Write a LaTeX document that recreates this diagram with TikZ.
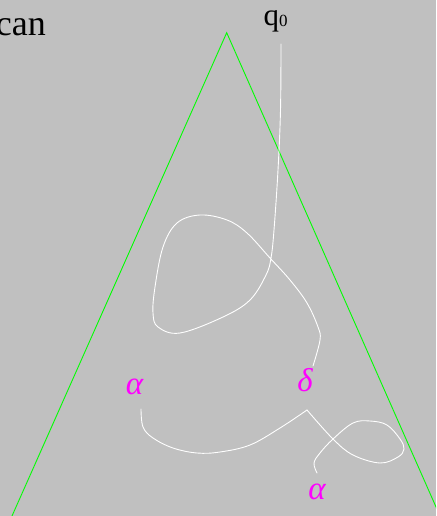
\documentclass[tikz,border=0pt]{standalone}
\usepackage{fontspec}
\setmainfont{Liberation Serif}
\definecolor{bggray}{RGB}{192,192,192}
\definecolor{tgreen}{RGB}{0,255,0}
\definecolor{lblmag}{RGB}{255,0,255}
\tikzset{
  edgeline/.style={draw=tgreen, line width=0.9pt},
  strand/.style={draw=white, line width=0.9pt, line cap=round, line join=round},
  greeklbl/.style={text=lblmag, inner sep=0pt, anchor=base, font=\fontsize{33}{33}\selectfont\itshape},
  blacklbl/.style={text=black, inner sep=0pt},
}
\begin{document}
\begin{tikzpicture}[x=1pt,y=-1pt]
\useasboundingbox (0,0) rectangle (436,516);
\fill[bggray] (0,0) rectangle (436,516);
\begin{scope}
\clip (0,0) rectangle (436,516);
\draw[edgeline] (12,516) -- (226.7,32.7) -- (440,516);
\draw[strand] plot[smooth, tension=0.6] coordinates {
  (281,44) (280.5,110) (278,170) (274,230) (271,258) (266,275) (250,300) (223,317)
  (180,333) (158,327) (153,313) (155,287) (163,247) (177,223) (200,215) (227,220)
  (247,233) (270,258) (290,280) (307,303) (318,327) (320,340) (313,366)};
\draw[strand] plot[smooth, tension=0.6] coordinates {
  (141,409) (143,427) (153,438) (173,448) (197,453) (220,452) (250,445) (280,428) (307,410)};
\draw[strand] plot[smooth, tension=0.6] coordinates {
  (307,410) (333,439) (353,455) (380,463) (398,457) (404,449) (400,439) (387,425)
  (370,421) (353,423) (333,439) (320,453) (314,463) (317,473)};
\end{scope}
\node[blacklbl, anchor=base east, font=\fontsize{36}{36}\selectfont] (can) at (46,35.5) {can};
\node[blacklbl, anchor=base west, font=\fontsize{31}{31}\selectfont] (q0) at (263.5,25.5) {q\raisebox{-1.5pt}{\fontsize{17}{17}\selectfont 0}};
\node[greeklbl] (alphaL) at (134.5,394) {α};
\node[greeklbl] (delta) at (305,391) {δ};
\node[greeklbl] (alphaB) at (317,499) {α};
\end{tikzpicture}
\end{document}
